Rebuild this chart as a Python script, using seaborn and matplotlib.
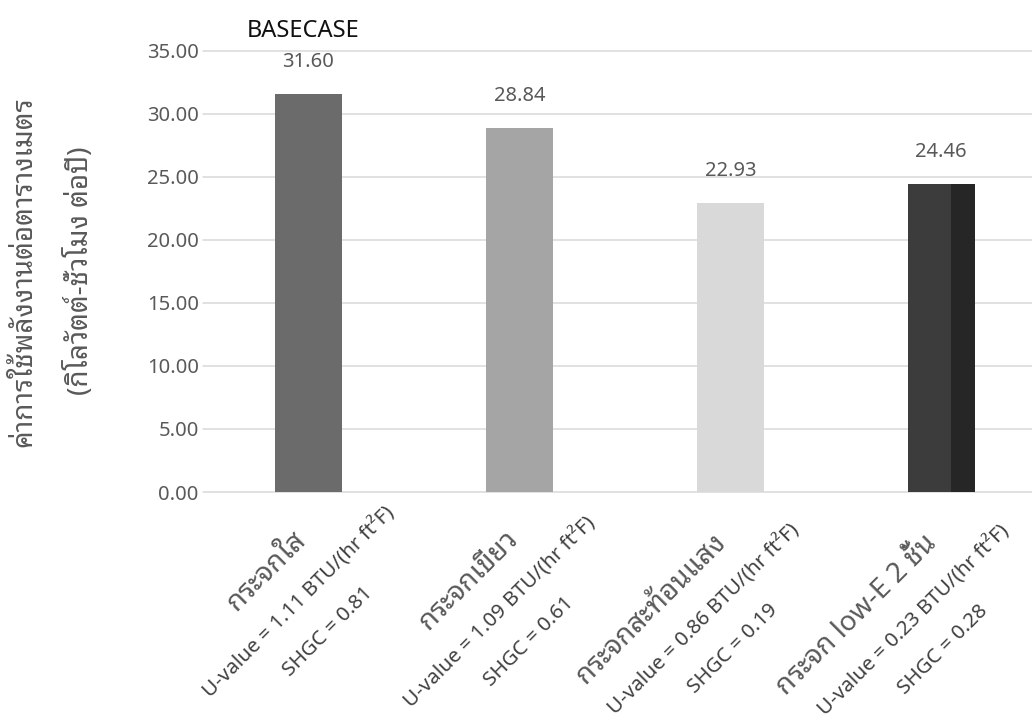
import numpy as np
import pandas as pd
import matplotlib
matplotlib.use("Agg")
import matplotlib.pyplot as plt
from matplotlib.patches import Rectangle
import seaborn as sns

# data
glass = ["กระจกใส", "กระจกเขียว", "กระจกสะท้อนแสง", "กระจก low-E 2 ชั้น"]
energy = [31.60, 28.84, 22.93, 24.46]
u_value = ["1.11", "1.09", "0.86", "0.23"]
shgc = ["0.81", "0.61", "0.19", "0.28"]
bar_colors = ["#6b6b6b", "#a5a5a5", "#d9d9d9", "#3c3c3c"]
y_ticks = [0, 5, 10, 15, 20, 25, 30, 35]

df = pd.DataFrame({"glass": glass, "energy": energy})

sns.set_theme(style="white")
plt.rcParams["font.family"] = ["Noto Sans Thai Looped", "Noto Sans", "DejaVu Sans"]

fig = plt.figure(figsize=(10.32, 7.2), dpi=100)
ax = fig.add_axes([203 / 1032, 1 - 492 / 720, 1 - 203 / 1032, (492 - 50.7) / 720])

sns.barplot(data=df, x="glass", y="energy", hue="glass", palette=bar_colors,
            legend=False, width=0.32, saturation=1, linewidth=0, ax=ax)

# darker right part of the last bar
last = ax.patches[3]
w = last.get_width()
ax.add_patch(Rectangle((last.get_x() + 0.64 * w, 0), 0.36 * w, last.get_height(),
                       facecolor="#262626", edgecolor="none", zorder=last.get_zorder()))

ax.set_xlim(-0.5, 3.43)
ax.set_ylim(0, 35)
ax.set_yticks(y_ticks)
ax.set_yticklabels([f"{t:.2f}" for t in y_ticks], fontsize=14.5, color="#595959")
ax.tick_params(axis="y", length=0, pad=3)
ax.tick_params(axis="x", length=0)
ax.set_xticks(range(len(glass)))
ax.set_xticklabels([])
ax.set_xlabel("")
ax.set_ylabel("")

ax.yaxis.grid(True, color="#d9d9d9", linewidth=1.1)
for gl in ax.get_ygridlines():
    gl.set_clip_on(False)
ax.set_axisbelow(True)
for s in ax.spines.values():
    s.set_visible(False)

# value labels above bars
for i, v in enumerate(energy):
    ax.annotate(f"{v:.2f}", xy=(i, v), xytext=(0, 23), textcoords="offset points",
                ha="center", va="center", fontsize=14.5, color="#595959")

# rotated category labels (three lines each)
thai_along = [-86, -98, -139, -147]
sub_along = [-85, -99, -109, -110]
perp = [27, 71, 113]


def off(along, p):
    k = 0.72 / np.sqrt(2)
    return ((along + p) * k, (along - p) * k)


for i in range(len(glass)):
    lines = [
        (glass[i], thai_along[i], perp[0], 20, "#595959"),
        (f"U-value = {u_value[i]} BTU/(hr ft²F)", sub_along[i], perp[1], 14.8, "#404040"),
        (f"SHGC = {shgc[i]}", sub_along[i], perp[2], 14.8, "#404040"),
    ]
    for txt, a, p, fs, col in lines:
        ax.annotate(txt, xy=(i, 0), xycoords=("data", "axes fraction"),
                    xytext=off(a, p), textcoords="offset points",
                    rotation=45, rotation_mode="anchor", ha="center", va="center",
                    fontsize=fs, color=col, annotation_clip=False)

# y axis title, two lines
fig.text(24 / 1032, 1 - 272 / 720, "ค่าการใช้พลังงานต่อตารางเมตร", rotation=90,
         ha="center", va="center", fontsize=20, color="#595959")
fig.text(80 / 1032, 1 - 271 / 720, "(กิโลวัตต์-ชั่วโมง ต่อปี)", rotation=90,
         ha="center", va="center", fontsize=20, color="#595959")

fig.text(247 / 1032, 1 - 31 / 720, "BASECASE", ha="left", va="center",
         fontsize=17, fontweight="semibold", color="#111111")

fig.savefig("out.png", dpi=100)
plt.close()
